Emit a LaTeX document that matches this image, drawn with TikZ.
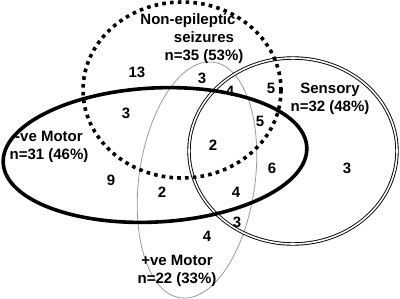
\documentclass[tikz,border=0pt]{standalone}
\usepackage{fontspec}
\setmainfont{Liberation Sans}
\usetikzlibrary{calc}
\definecolor{vnGrey}{HTML}{9A9A9A}
\tikzset{
  negmotor/.style  = {black, line width=3.6pt},
  nonepi/.style    = {black, line width=3.6pt, dash pattern=on 3.6pt off 4.2pt},
  sensory/.style   = {black, double, double distance=1.6pt, line width=0.9pt},
  posmotor/.style  = {vnGrey, line width=0.8pt},
  lbl/.style       = {font=\fontsize{15}{18}\selectfont\bfseries, align=center, inner sep=0pt},
  cnt/.style       = {font=\fontsize{15}{18}\selectfont\bfseries, inner sep=0pt},
}
\begin{document}
\begin{tikzpicture}[x=1pt,y=-1pt]
  \useasboundingbox (0,0) rectangle (400,298);
  % the four sets
  \draw[posmotor] (197,180) ellipse[x radius=58, y radius=119, rotate=-8];
  \draw[sensory] (293,151) ellipse[x radius=104, y radius=93];
  \draw[negmotor] (155,155) ellipse[x radius=152, y radius=67, rotate=3];
  \draw[nonepi] (182,90) ellipse[x radius=99, y radius=88];
  % set names
  \node[lbl] (nonepiname) at (204,39) {Non-epileptic\hspace*{32pt}\\seizures\\n=35 (53\%)};
  \node[lbl] (sensname) at (330,99) {Sensory\\n=32 (48\%)};
  \node[lbl] (negname) at (49,147) {-ve Motor\\n=31 (46\%)};
  \node[lbl] (posname) at (177,271) {+ve Motor\\n=22 (33\%)};
  % counts
  \foreach \n/\p/\t in {c1/{(137,72)}/13, c2/{(202,78)}/3, c3/{(230,91)}/4,
                        c4/{(271,88)}/5, c5/{(260,121)}/5, c6/{(213,145)}/2,
                        c7/{(126,113)}/3, c8/{(111,180)}/9, c9/{(162,192)}/2,
                        c10/{(272,168)}/6, c11/{(347,168)}/3, c12/{(236,192)}/4,
                        c13/{(237,222)}/3, c14/{(207,236)}/4}
    { \node[cnt] (\n) at \p {\t}; }
\end{tikzpicture}
\end{document}
